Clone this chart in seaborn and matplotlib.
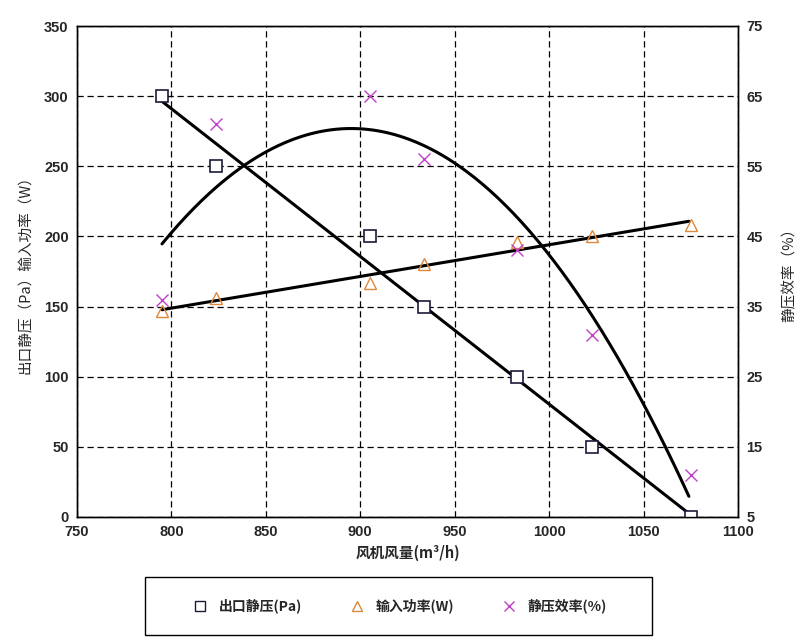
import numpy as np
import pandas as pd
import seaborn as sns
import matplotlib.pyplot as plt
from matplotlib.lines import Line2D
from matplotlib.patches import Rectangle

flow = [795, 823.5, 905, 933.5, 983, 1022.5, 1075]
pressure = [300, 250, 200, 150, 100, 50, 0]
power = [147, 156, 167, 180, 196, 200, 208]
efficiency = [36, 61, 65, 56, 43, 31, 11]

x_ticks = [750, 800, 850, 900, 950, 1000, 1050, 1100]
left_ticks = [0, 50, 100, 150, 200, 250, 300, 350]
right_ticks = [5, 15, 25, 35, 45, 55, 65, 75]

sns.set_style("white")
plt.rcParams['font.family'] = ['Liberation Sans', 'Noto Sans CJK SC', 'DejaVu Sans']
plt.rcParams['font.weight'] = 'bold'
cjk = ['Noto Sans CJK SC', 'DejaVu Sans']

df = pd.DataFrame({'flow': flow, 'pressure': pressure, 'power': power, 'eff': efficiency})

# trend lines (fitted like the spreadsheet trendlines)
xs = np.linspace(min(flow), max(flow) - 1, 200)
fit = pd.DataFrame({
    'x': xs,
    'pressure': np.polyval(np.polyfit(flow, pressure, 1), xs),
    'power': np.polyval(np.polyfit(flow, power, 1), xs),
    'eff': np.polyval(np.polyfit(flow, efficiency, 2), xs),
})

fig = plt.figure(figsize=(7.99, 6.37), dpi=100)
ax = fig.add_axes([77 / 799, 1 - 517 / 637, 661 / 799, 491 / 637])
ax2 = ax.twinx()

sns.lineplot(data=fit, x='x', y='pressure', ax=ax, color='black', lw=2.2)
sns.lineplot(data=fit, x='x', y='power', ax=ax, color='black', lw=2.2)
sns.lineplot(data=fit, x='x', y='eff', ax=ax2, color='black', lw=2.2)

sq_color = '#1a1a3a'
tri_color = '#e0883a'
x_color = '#c040c8'
ax.plot(df['flow'], df['pressure'], ls='none', marker='s', ms=8, mfc='white', mec=sq_color, mew=1.2, zorder=5)
ax.plot(df['flow'], df['power'], ls='none', marker='^', ms=8, mfc='none', mec=tri_color, mew=1.0, zorder=5)
ax2.plot(df['flow'], df['eff'], ls='none', marker='x', ms=8, mec=x_color, mew=1.0, zorder=5)

ax.set_xlim(750, 1100)
ax.set_ylim(0, 350)
ax2.set_ylim(5, 75)
ax.set_xticks(x_ticks)
ax.set_yticks(left_ticks)
ax2.set_yticks(right_ticks)
for a in (ax, ax2):
    a.tick_params(length=0, labelsize=10.5, pad=6)
    for s in a.spines.values():
        s.set_color('black')
        s.set_linewidth(1.0)

ax.grid(True, color='black', ls=(0, (5, 3)), lw=0.9)
ax.set_axisbelow(True)

ax.set_xlabel('风机风量(m³/h)', family=cjk, fontsize=10.5, fontweight='bold', labelpad=4)
ax.set_ylabel('出口静压（Pa）输入功率（W）', family=cjk, fontsize=10.5, fontweight='normal', labelpad=8)
ax2.set_ylabel('静压效率（%）', family=cjk, fontsize=10.5, fontweight='normal', labelpad=14)

# legend box drawn separately so the entries can sit centred inside it
fig.patches.append(Rectangle((145 / 799, 1 - 635 / 637), 507 / 799, 58 / 637,
                             transform=fig.transFigure, fill=False,
                             edgecolor='black', lw=1.0))
handles = [
    Line2D([], [], ls='none', marker='s', ms=7, mfc='white', mec=sq_color, mew=1.0),
    Line2D([], [], ls='none', marker='^', ms=7, mfc='none', mec=tri_color, mew=1.0),
    Line2D([], [], ls='none', marker='x', ms=7, mec=x_color, mew=1.0),
]
labels = ['出口静压(Pa)', '输入功率(W)', '静压效率(%)']
fig.legend(handles, labels, loc='center', ncol=3,
           bbox_to_anchor=(400 / 799, 1 - 606 / 637),
           prop={'family': cjk, 'weight': 'bold', 'size': 10},
           frameon=False, handlelength=1.0, handletextpad=0.8, columnspacing=3.5)

fig.savefig('out.png', dpi=100)
